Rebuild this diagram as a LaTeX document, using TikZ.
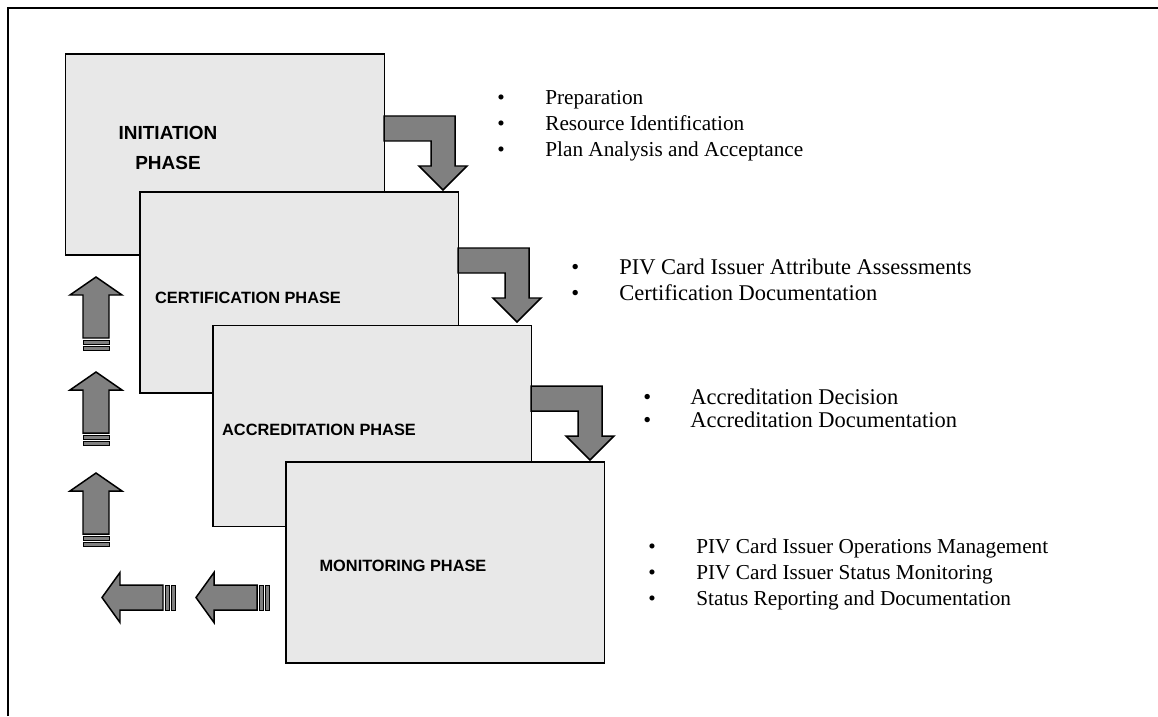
\documentclass[tikz,border=0pt]{standalone}
\usepackage{fontspec}
\setmainfont{Liberation Serif}
\setsansfont{Liberation Sans}
\usepackage{xcolor}
\definecolor{boxgray}{HTML}{E8E8E8}
\definecolor{arrowgray}{HTML}{808080}

\begin{document}
\begin{tikzpicture}[x=0.02cm,y=-0.02cm,
        phase/.style={draw, line width=1.1pt, fill=boxgray, minimum width=6.38cm, minimum height=4.02cm, inner sep=0pt},
        phasetext/.style={font=\sffamily\bfseries\fontsize{9.3}{17}\selectfont, align=center},
        bulletitem/.style={anchor=west, inner sep=0pt, text height=8pt, text depth=2.5pt, font=\fontsize{12.1}{14}\selectfont},
        bigitem/.style={bulletitem, font=\fontsize{12.8}{14}\selectfont},
        blockarrow/.style={draw, line width=0.85pt, fill=arrowgray, line join=miter},
        stripe/.style={draw, line width=0.55pt, fill=arrowgray}]
        \useasboundingbox (0,0) rectangle (1158,716);
        \draw[line width=1.4pt] (8,716) -- (8,8) -- (1158,8);

        % phases
        \node[phase](init) at (225,154.5) {};
        \node[phasetext, font=\sffamily\bfseries\fontsize{10.8}{17}\selectfont](inittext) at (168,148) {INITIATION\\PHASE};
        \draw[blockarrow, shift={(384,116)}] (0,0) -- (71,0) -- (71,50) -- (83,50) -- (59,74) -- (35,50) -- (47,50) -- (47,25) -- (0,25) -- cycle;

        \node[phase](cert) at (299,292.5) {};
        \node[phasetext](certtext) at (248,298) {CERTIFICATION PHASE};
        \draw[blockarrow, shift={(458,248)}] (0,0) -- (71,0) -- (71,50) -- (83,50) -- (59,74) -- (35,50) -- (47,50) -- (47,25) -- (0,25) -- cycle;

        \node[phase](accr) at (372,426) {};
        \node[phasetext](accrtext) at (319,430) {ACCREDITATION PHASE};
        \draw[blockarrow, shift={(531,386)}] (0,0) -- (71,0) -- (71,50) -- (83,50) -- (59,74) -- (35,50) -- (47,50) -- (47,25) -- (0,25) -- cycle;

        \node[phase](mon) at (445,562.5) {};
        \node[phasetext](montext) at (403,566) {MONITORING PHASE};

        % return arrows
        \foreach \y in {277,372,473} {
                \draw[blockarrow, shift={(96,\y)}] (0,0) -- (26,18) -- (13,18) -- (13,61) -- (-13,61) -- (-13,18) -- (-26,18) -- cycle;
                \draw[stripe, shift={(96,\y)}] (-13,63) rectangle (13,67) (-13,69) rectangle (13,73);
        }
        \foreach \x in {102,196} {
                \draw[blockarrow, shift={(\x,597.5)}] (0,0) -- (18,-25) -- (18,-12.5) -- (61,-12.5) -- (61,12.5) -- (18,12.5) -- (18,25) -- cycle;
                \draw[stripe, shift={(\x,597.5)}] (63,-12.5) rectangle (67,12.5) (69,-12.5) rectangle (73,12.5);
        }

        % activities
        \node[bulletitem](prep) at (497,100) {\makebox[0.96cm][l]{\textbullet}Preparation};
        \node[bulletitem](res) at (497,126) {\makebox[0.96cm][l]{\textbullet}Resource Identification};
        \node[bulletitem](plan) at (497,152) {\makebox[0.96cm][l]{\textbullet}Plan Analysis and Acceptance};

        \node[bigitem](attr) at (571,270) {\makebox[0.96cm][l]{\textbullet}PIV Card Issuer Attribute Assessments};
        \node[bigitem](certdoc) at (571,296) {\makebox[0.96cm][l]{\textbullet}Certification Documentation};

        \node[bigitem](dec) at (643,400) {\makebox[0.94cm][l]{\textbullet}Accreditation Decision};
        \node[bigitem](accrdoc) at (643,423) {\makebox[0.94cm][l]{\textbullet}Accreditation Documentation};

        \node[bulletitem](ops) at (648,549) {\makebox[0.96cm][l]{\textbullet}PIV Card Issuer Operations Management};
        \node[bulletitem](stat) at (648,575) {\makebox[0.96cm][l]{\textbullet}PIV Card Issuer Status Monitoring};
        \node[bulletitem](rep) at (648,601) {\makebox[0.96cm][l]{\textbullet}Status Reporting and Documentation};
\end{tikzpicture}
\end{document}
